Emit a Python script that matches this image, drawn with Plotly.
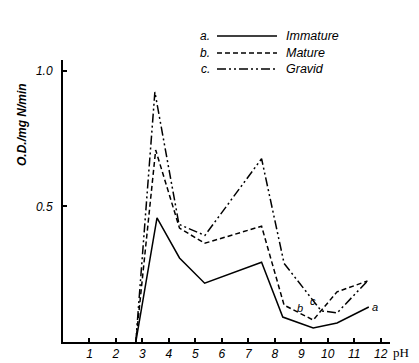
import plotly.graph_objects as go

# ---- data ----
ph_a = [2.75, 3.55, 4.4, 5.35, 7.5, 8.3, 9.45, 10.35, 11.55]
od_a = [0.0, 0.458, 0.31, 0.217, 0.294, 0.092, 0.052, 0.07, 0.129]

ph_b = [2.75, 3.5, 4.4, 5.35, 7.5, 8.35, 9.45, 10.35, 11.5]
od_b = [0.0, 0.708, 0.42, 0.364, 0.427, 0.136, 0.081, 0.185, 0.225]

ph_c = [2.75, 3.47, 4.38, 5.36, 7.5, 8.35, 9.75, 10.35, 11.5]
od_c = [0.0, 0.922, 0.434, 0.393, 0.676, 0.29, 0.115, 0.107, 0.225]

series_names = ["Immature", "Mature", "Gravid"]
series_keys = ["a.", "b.", "c."]
x_ticks = list(range(1, 13))
y_ticks = [0.5, 1.0]
y_ticktext = ["0.5", "1.0"]

dashes = ["solid", "5px,3px", "9px,3px,2px,3px,2px,3px"]

fig = go.Figure()
for xs, ys, name, d in zip([ph_a, ph_b, ph_c], [od_a, od_b, od_c], series_names, dashes):
    fig.add_trace(go.Scatter(x=xs, y=ys, mode="lines", name=name,
                             line=dict(color="black", width=1.5, dash=d),
                             showlegend=False))

# curve labels
curve_labels = [("a", ph_a[-1] + 0.22, od_a[-1]),
                ("b", 8.95, 0.125),
                ("c", 9.45, 0.152)]
for t, x, y in curve_labels:
    fig.add_annotation(x=x, y=y, text=t, showarrow=False, xref="x", yref="y",
                       xanchor="center", yanchor="middle",
                       font=dict(family="Liberation Sans", size=11, color="black", style="italic"))

# manual legend (key, line sample, name)
W = 327.0
H = 282.0
leg_y_px = [36, 53, 69]
for key, name, d, py in zip(series_keys, series_names, dashes, leg_y_px):
    yy = (342 - py) / H
    fig.add_shape(type="line", xref="paper", yref="paper",
                  x0=(217 - 63) / W, x1=(277 - 63) / W, y0=yy, y1=yy,
                  line=dict(color="black", width=1.5, dash=d))
    fig.add_annotation(xref="paper", yref="paper", x=(212 - 63) / W, y=yy, text=key,
                       showarrow=False, xanchor="right", yanchor="middle",
                       font=dict(family="Liberation Sans", size=12, color="black", style="italic"))
    fig.add_annotation(xref="paper", yref="paper", x=(284 - 63) / W, y=yy, text=name,
                       showarrow=False, xanchor="left", yanchor="middle",
                       font=dict(family="Liberation Sans", size=12.5, color="black", style="italic"))

# axis title and pH label
fig.add_annotation(xref="paper", yref="paper", x=(22 - 63) / W, y=(342 - 125) / H,
                   text="<b>O.D./mg N/min</b>", textangle=-90, showarrow=False,
                   xanchor="center", yanchor="middle",
                   font=dict(family="Liberation Sans", size=12, color="black", style="italic"))
fig.add_annotation(xref="paper", yref="paper", x=(391 - 63) / W, y=(342 - 352) / H,
                   text="pH", showarrow=False, xanchor="left", yanchor="middle",
                   font=dict(family="Liberation Serif", size=13, color="black"))

fig.update_xaxes(range=[0, 12.35], tickvals=x_ticks, ticks="inside", ticklen=4,
                 tickwidth=1.5, tickcolor="black", showline=True, linewidth=2,
                 linecolor="black", showgrid=False, zeroline=False, automargin=False,
                 tickfont=dict(family="Liberation Sans", size=12, color="black", style="italic"))
fig.update_yaxes(range=[0, 1.04], tickvals=y_ticks, ticktext=y_ticktext, ticks="inside",
                 ticklen=4, tickwidth=1.5, tickcolor="black", showline=True, linewidth=2,
                 linecolor="black", showgrid=False, zeroline=False, ticklabelstandoff=6,
                 automargin=False,
                 tickfont=dict(family="Liberation Sans", size=12, color="black", style="italic"))

fig.update_layout(width=419, height=363, margin=dict(l=63, r=29, t=60, b=21),
                  plot_bgcolor="white", paper_bgcolor="white", showlegend=False)

fig.write_html("out.html")
